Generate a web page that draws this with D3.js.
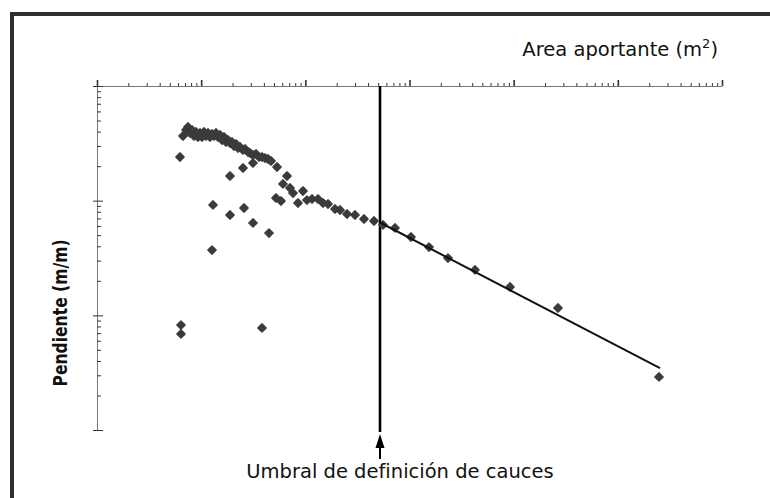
<!DOCTYPE html>
<html lang="es">
<head>
<meta charset="UTF-8">
<title>Pendiente vs area aportante</title>
<style>
  body { margin: 0; background: #fff; }
  text { font-family: "DejaVu Sans", sans-serif; fill: #111; }
  text.ylabel { font-family: "DejaVu Sans Condensed", "DejaVu Sans", sans-serif; }
</style>
</head>
<body>
<div id="chart"></div>
<script src="https://d3js.org/d3.v7.min.js"></script>
<script>
// values (area in m2, slope in m/m)
var area = [669, 715, 747, 781, 817, 854, 892, 932, 975, 1019, 1065, 1113, 1163, 1216, 1271, 1328, 1388, 1451,
  1517, 1585, 1657, 1732, 1810, 1892, 1977, 2067, 2160, 2258, 2360, 2521, 2635, 2815, 2943, 3145, 3361, 3592,
  3837, 4101, 4382, 4683, 5346, 6668,
  626, 1892, 2521, 3145,
  6103, 7125, 7613, 9497, 5229, 5840, 8504, 10370, 11590, 13230, 14780, 16510, 19270, 21520, 25120, 29990,
  36570, 45620, 55670, 72580, 103400, 153900, 234200, 425400, 922000, 2664000, 24840000,
  1299, 1892, 2577, 3145, 4480, 1271, 640, 640, 3837]
var slope = [0.3664, 0.4133, 0.4390, 0.3892, 0.4133, 0.3664, 0.3971, 0.3590, 0.3892, 0.3590, 0.3971, 0.3664,
  0.3892, 0.3590, 0.3815, 0.3664, 0.3892, 0.3590, 0.3739, 0.3381, 0.3590, 0.3248, 0.3381, 0.3183, 0.3248,
  0.2997, 0.3120, 0.2879, 0.2938, 0.2766, 0.2822, 0.2657, 0.2604, 0.2502, 0.2553, 0.2403, 0.2403, 0.2355,
  0.2309, 0.2218, 0.1966, 0.1641,
  0.2403, 0.1641, 0.1927, 0.2131,
  0.1398, 0.1290, 0.1166, 0.1214, 0.1055, 0.0993, 0.0954, 0.1013, 0.1034, 0.1034, 0.0954, 0.0935, 0.0846,
  0.0829, 0.0765, 0.0750, 0.0692, 0.0665, 0.0614, 0.0578, 0.0482, 0.0394, 0.0316, 0.0249, 0.01767, 0.01159,
  0.0029,
  0.0917, 0.0750, 0.0863, 0.0639, 0.0522, 0.0371, 0.00823, 0.00688, 0.00776]

// fitted line beyond the threshold
var fitArea = [52100, 25400000]
var fitSlope = [0.0645, 0.00347]
var threshold = 52100

var xDomain = [1e2, 1e8]
var yDomain = [1, 1e-3]

var width = 770, height = 498

var svg = d3.select("#chart").append("svg")
  .attr("width", width)
  .attr("height", height)

svg.append("rect")
  .attr("width", width).attr("height", height)
  .attr("fill", "#fff")

// frame (cut at the right and bottom)
svg.append("rect")
  .attr("x", 12).attr("y", 14)
  .attr("width", 900).attr("height", 700)
  .attr("fill", "none")
  .attr("stroke", "#2e2e2e")
  .attr("stroke-width", 4)

var x = d3.scaleLog().domain(xDomain).range([97, 722])
var y = d3.scaleLog().domain(yDomain).range([86, 430])

function isMajor(d) {
  return Math.abs(Math.log10(d) - Math.round(Math.log10(d))) < 1e-6
}

// top axis, ticks pointing up
var gx = svg.append("g")
  .attr("transform", "translate(0,86)")
  .call(d3.axisTop(x).tickValues(x.ticks()).tickSize(3).tickSizeOuter(0).tickFormat(""))
gx.select(".domain").attr("stroke", "#777").attr("stroke-width", 1)
gx.selectAll(".tick line").attr("stroke", "#333")
gx.selectAll(".tick line").filter(isMajor).attr("y2", -6).attr("stroke-width", 1.6)

// left axis, ticks pointing inward
var gy = svg.append("g")
  .attr("transform", "translate(97,0)")
  .call(d3.axisRight(y).tickValues(y.ticks()).tickSize(4).tickSizeOuter(0).tickFormat(""))
gy.select(".domain").attr("stroke", "#777").attr("stroke-width", 1)
gy.selectAll(".tick line").attr("stroke", "#333")
gy.selectAll(".tick line").filter(isMajor).attr("x1", -4).attr("x2", 6)

// threshold line and arrow
var xt = x(threshold)
svg.append("line")
  .attr("x1", xt).attr("x2", xt)
  .attr("y1", y(yDomain[0])).attr("y2", y(yDomain[1]) + 2)
  .attr("stroke", "#000").attr("stroke-width", 2.6)

var yb = y(yDomain[1])
svg.append("line")
  .attr("x1", xt).attr("x2", xt)
  .attr("y1", yb + 14).attr("y2", yb + 29)
  .attr("stroke", "#000").attr("stroke-width", 2)
svg.append("path")
  .attr("d", "M" + xt + "," + (yb + 4) + "L" + (xt - 4.5) + "," + (yb + 18) + "L" + (xt + 4.5) + "," + (yb + 18) + "Z")
  .attr("fill", "#000")

// points
var pts = area.map(function(a, i) { return [a, slope[i]] })
svg.append("g").selectAll("path")
  .data(pts)
  .enter()
  .append("path")
  .attr("d", d3.symbol().type(d3.symbolSquare).size(35))
  .attr("transform", function(d) { return "translate(" + x(d[0]) + "," + y(d[1]) + ") rotate(45)" })
  .attr("fill", "#3b3b3b")
  .attr("stroke", "#3b3b3b")
  .attr("stroke-width", 1.3)
  .attr("stroke-linejoin", "round")

// fitted line
svg.append("path")
  .datum(fitArea.map(function(a, i) { return [a, fitSlope[i]] }))
  .attr("d", d3.line().x(function(d) { return x(d[0]) }).y(function(d) { return y(d[1]) }))
  .attr("fill", "none")
  .attr("stroke", "#111")
  .attr("stroke-width", 2)

// titles
var xt2 = svg.append("text")
  .attr("x", 718).attr("y", 56)
  .attr("text-anchor", "end")
  .attr("font-size", 19.5)
xt2.append("tspan").text("Area aportante (m")
xt2.append("tspan").attr("font-size", 13).attr("dy", -8).text("2")
xt2.append("tspan").attr("dy", 8).text(")")

svg.append("text")
  .attr("class", "ylabel")
  .attr("transform", "translate(67,313) rotate(-90)")
  .attr("text-anchor", "middle")
  .attr("font-size", 19.5)
  .attr("font-weight", "bold")
  .attr("textLength", 147)
  .attr("lengthAdjust", "spacingAndGlyphs")
  .text("Pendiente (m/m)")

svg.append("text")
  .attr("x", 400).attr("y", 478)
  .attr("text-anchor", "middle")
  .attr("font-size", 19.5)
  .text("Umbral de definición de cauces")
</script>
</body>
</html>
